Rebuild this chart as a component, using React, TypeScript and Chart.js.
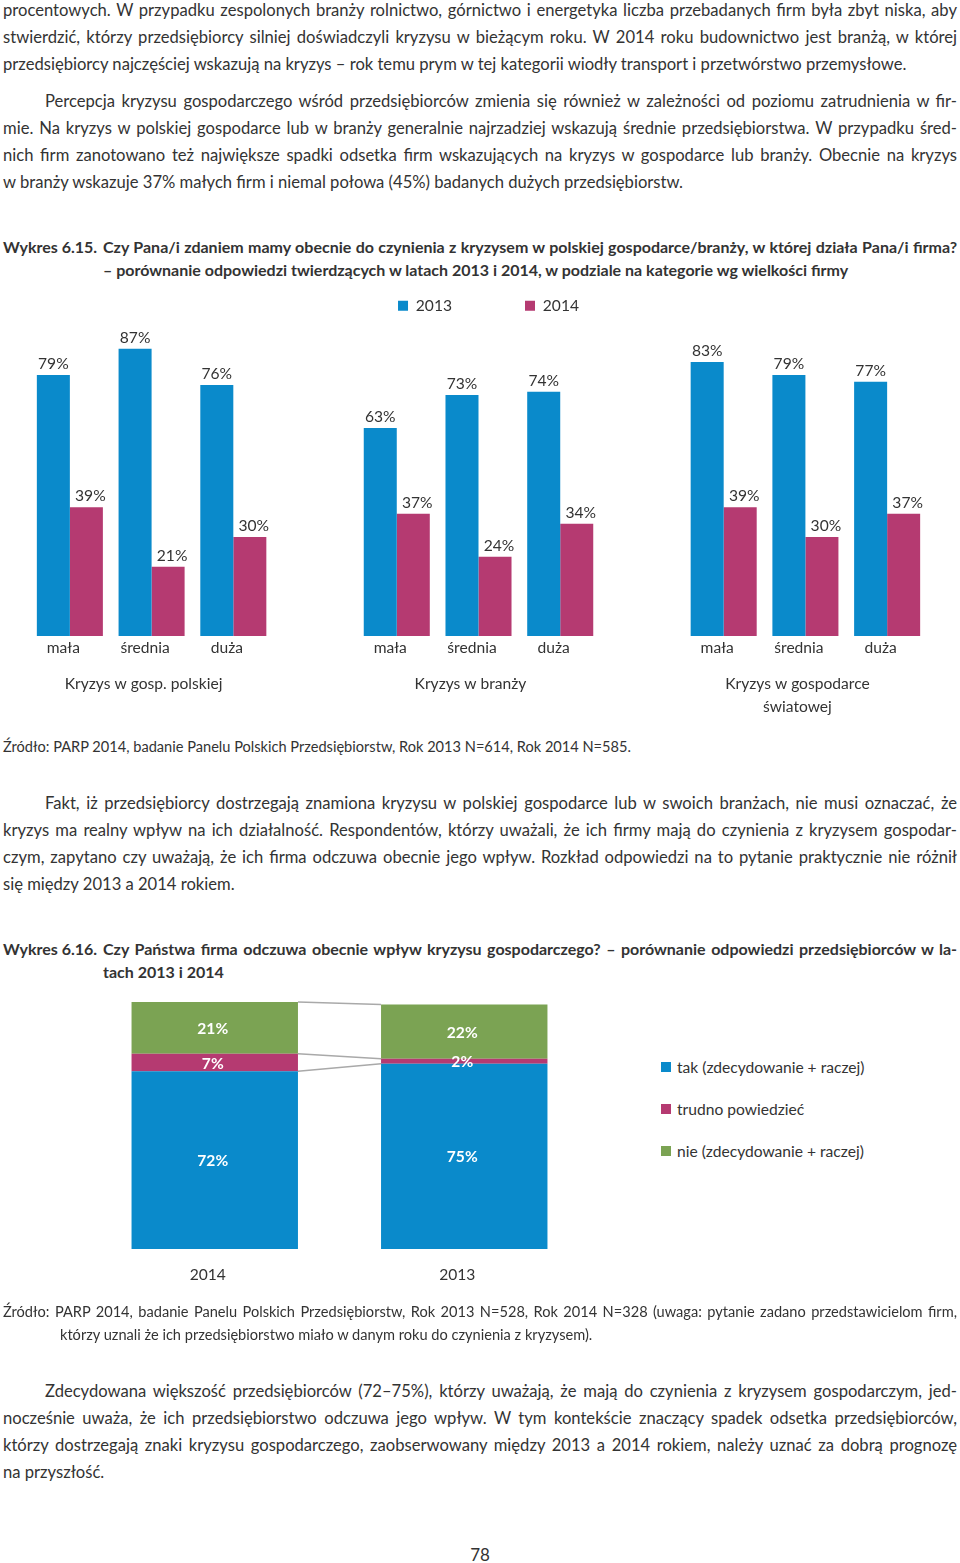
import React, { useEffect, useRef } from "react";
import { Chart, registerables } from "chart.js";

Chart.register(...registerables);

// ---------- DATA: Wykres 6.15 ----------
const sizeLabels = ["mała", "średnia", "duża"];
const groupLabels: (string | string[])[] = [
  "Kryzys w gosp. polskiej",
  "Kryzys w branży",
  ["Kryzys w gospodarce", "światowej"],
];
const seriesYears = ["2013", "2014"];
const values2013 = [79, 87, 76, 63, 73, 74, 83, 79, 77];
const values2014 = [39, 21, 30, 37, 24, 34, 39, 30, 37];

// ---------- DATA: Wykres 6.16 ----------
const impactYears = ["2014", "2013"];
const impactSeries = [
  "tak (zdecydowanie + raczej)",
  "trudno powiedzieć",
  "nie (zdecydowanie + raczej)",
];
const impactTak = [72, 75];
const impactTrudno = [7, 2];
const impactNie = [21, 22];

// ---------- STYLE ----------
const BLUE = "#0a8acb";
const PINK = "#b53a71";
const GREEN = "#7ba353";
const TEXT = "#333333";
const FONT = "Lato, 'Open Sans', 'DejaVu Sans', sans-serif";
const CHART_FS = 15.6;
const BODY_FS = 16.6;

Chart.defaults.font.family = FONT;
Chart.defaults.color = TEXT;

// build padded category arrays (one empty slot between groups)
function padGroups<T>(vals: T[], gap: T): T[] {
  const out: T[] = [];
  for (let g = 0; g < 3; g++) {
    for (let s = 0; s < 3; s++) out.push(vals[g * 3 + s]);
    if (g < 2) out.push(gap);
  }
  return out;
}
const xLabels = padGroups(
  [0, 1, 2, 0, 1, 2, 0, 1, 2].map((i) => sizeLabels[i]),
  ""
);
const x2Labels: (string | string[])[] = padGroups(
  [0, 1, 2, 3, 4, 5, 6, 7, 8].map((i) => (i % 3 === 1 ? groupLabels[(i - 1) / 3] : "")),
  ""
);
const data2013 = padGroups<number | null>(values2013, null);
const data2014 = padGroups<number | null>(values2014, null);

const barValueLabels = {
  id: "barValueLabels",
  afterDatasetsDraw(chart: any) {
    const ctx = chart.ctx;
    ctx.save();
    ctx.font = `${CHART_FS}px ${FONT}`;
    ctx.fillStyle = TEXT;
    ctx.textAlign = "center";
    ctx.textBaseline = "middle";
    chart.data.datasets.forEach((ds: any, i: number) => {
      const meta = chart.getDatasetMeta(i);
      meta.data.forEach((el: any, j: number) => {
        const v = ds.data[j];
        if (v === null || v === undefined) return;
        ctx.fillText(`${v}%`, el.x + (i === 1 ? 4 : 0), el.y - 11);
      });
    });
    ctx.restore();
  },
};

const stackDecor = {
  id: "stackDecor",
  afterDatasetsDraw(chart: any) {
    const ctx = chart.ctx;
    ctx.save();
    // connector lines between the two stacked bars
    ctx.strokeStyle = "#a9a9a9";
    ctx.lineWidth = 1.5;
    chart.data.datasets.forEach((_ds: any, i: number) => {
      const meta = chart.getDatasetMeta(i);
      const a = meta.data[0];
      const b = meta.data[1];
      ctx.beginPath();
      ctx.moveTo(a.x + a.width / 2, a.y);
      ctx.lineTo(b.x - b.width / 2, b.y);
      ctx.stroke();
    });
    // segment value labels
    ctx.font = `bold ${CHART_FS}px ${FONT}`;
    ctx.fillStyle = "#ffffff";
    ctx.textAlign = "center";
    ctx.textBaseline = "middle";
    chart.data.datasets.forEach((ds: any, i: number) => {
      const meta = chart.getDatasetMeta(i);
      meta.data.forEach((el: any, j: number) => {
        const v = ds.data[j];
        let cy = (el.y + el.base) / 2;
        if (Math.abs(el.base - el.y) < 10) cy = el.y + 2;
        ctx.fillText(`${v}%`, el.x - 2, cy + 1);
      });
    });
    ctx.restore();
  },
};

function GroupedChart() {
  const ref = useRef<HTMLCanvasElement>(null);
  useEffect(() => {
    if (!ref.current) return;
    const chart = new Chart(ref.current, {
      type: "bar",
      data: {
        labels: xLabels,
        datasets: [
          { label: seriesYears[0], data: data2013, backgroundColor: BLUE, borderWidth: 0, xAxisID: "x", yAxisID: "y" },
          { label: seriesYears[1], data: data2014, backgroundColor: PINK, borderWidth: 0, xAxisID: "x", yAxisID: "y" },
        ],
      },
      options: {
        responsive: false,
        animation: false,
        events: [],
        layout: { padding: { top: 0, bottom: 4, left: 0, right: 0 } },
        datasets: { bar: { categoryPercentage: 0.808, barPercentage: 1 } },
        plugins: {
          legend: {
            display: true,
            position: "top",
            align: "center",
            labels: { boxWidth: 10, boxHeight: 10, padding: 73, color: TEXT, font: { size: CHART_FS } },
          },
          tooltip: { enabled: false },
        },
        scales: {
          x: {
            type: "category",
            position: "bottom",
            weight: 0,
            offset: true,
            grid: { display: false, drawTicks: false },
            border: { display: false },
            ticks: { autoSkip: false, maxRotation: 0, padding: 3, labelOffset: -6.5, color: TEXT, font: { size: CHART_FS, lineHeight: 18 / CHART_FS } },
          },
          x2: {
            type: "category",
            labels: x2Labels as any,
            position: "bottom",
            weight: 1,
            offset: true,
            grid: { display: false, drawTicks: false },
            border: { display: false },
            ticks: { autoSkip: false, maxRotation: 0, padding: 12.5, labelOffset: -8, color: TEXT, font: { size: CHART_FS, lineHeight: 23 / CHART_FS } },
          },
          y: {
            position: "right",
            min: 0,
            max: 94.6,
            grid: { display: false, drawTicks: false },
            border: { display: false },
            ticks: { display: false },
            afterFit: (s: any) => {
              s.width = 20;
            },
          },
        },
      } as any,
      plugins: [barValueLabels],
    });
    return () => chart.destroy();
  }, []);
  return (
    <canvas
      ref={ref}
      width={919}
      height={510}
      style={{ position: "absolute", left: 29, top: 225, width: 919, height: 510, pointerEvents: "none" }}
    />
  );
}

function StackedChart() {
  const ref = useRef<HTMLCanvasElement>(null);
  useEffect(() => {
    if (!ref.current) return;
    const chart = new Chart(ref.current, {
      type: "bar",
      data: {
        labels: impactYears,
        datasets: [
          { label: impactSeries[0], data: impactTak, backgroundColor: BLUE, borderWidth: 0 },
          { label: impactSeries[1], data: impactTrudno, backgroundColor: PINK, borderWidth: 0 },
          { label: impactSeries[2], data: impactNie, backgroundColor: GREEN, borderWidth: 0 },
        ],
      },
      options: {
        responsive: false,
        animation: false,
        events: [],
        layout: { padding: { top: 10, bottom: 3, left: 0, right: 0 } },
        datasets: { bar: { categoryPercentage: 1, barPercentage: 0.667 } },
        plugins: { legend: { display: false }, tooltip: { enabled: false } },
        scales: {
          x: {
            stacked: true,
            offset: true,
            grid: { display: false, drawTicks: false },
            border: { display: false },
            ticks: { padding: 17, labelOffset: -7, color: TEXT, font: { size: CHART_FS, lineHeight: 18 / CHART_FS } },
          },
          y: { stacked: true, min: 0, max: 100, display: false },
        },
      } as any,
      plugins: [stackDecor],
    });
    return () => chart.destroy();
  }, []);
  return (
    <canvas
      ref={ref}
      width={499}
      height={312}
      style={{ position: "absolute", left: 90, top: 992, width: 499, height: 312 }}
    />
  );
}

type LineProps = {
  x: number;
  cy: number;
  w?: number;
  text: string;
  justify?: boolean;
  size?: number;
  weight?: number;
  center?: boolean;
};

function L({ x, cy, w = 954, text, justify = false, size = BODY_FS, weight = 400, center = false }: LineProps) {
  const lh = 20;
  return (
    <div
      style={{
        position: "absolute",
        left: x,
        top: cy - lh / 2,
        width: w,
        fontSize: size,
        fontWeight: weight,
        lineHeight: `${lh}px`,
        textAlign: center ? "center" : justify ? "justify" : "left",
        textAlignLast: justify ? "justify" : "auto",
        whiteSpace: justify ? "normal" : "nowrap",
        overflow: "visible",
      }}
    >
      {text}
    </div>
  );
}

const legend2Colors = [BLUE, PINK, GREEN];
const legend2Y = [1067, 1109, 1151];

export default function App() {
  useEffect(() => {
    document.body.style.margin = "0";
  }, []);
  return (
    <div
      style={{
        position: "absolute",
        left: 0,
        top: 0,
        width: 960,
        height: 1563,
        background: "#ffffff",
        color: TEXT,
        fontFamily: FONT,
        overflow: "hidden",
      }}
    >
      {/* paragraph 1 */}
      <L x={3} cy={10} justify text="procentowych. W przypadku zespolonych branży rolnictwo, górnictwo i energetyka liczba przebadanych firm była zbyt niska, aby" />
      <L x={3} cy={37} justify text="stwierdzić, którzy przedsiębiorcy silniej doświadczyli kryzysu w bieżącym roku. W 2014 roku budownictwo jest branżą, w której" />
      <L x={3} cy={64} text="przedsiębiorcy najczęściej wskazują na kryzys – rok temu prym w tej kategorii wiodły transport i przetwórstwo przemysłowe." />

      {/* paragraph 2 */}
      <L x={45} w={912} cy={101} justify text="Percepcja kryzysu gospodarczego wśród przedsiębiorców zmienia się również w zależności od poziomu zatrudnienia w fir-" />
      <L x={3} cy={128} justify text="mie. Na kryzys w polskiej gospodarce lub w branży generalnie najrzadziej wskazują średnie przedsiębiorstwa. W przypadku śred-" />
      <L x={3} cy={155} justify text="nich firm zanotowano też największe spadki odsetka firm wskazujących na kryzys w gospodarce lub branży. Obecnie na kryzys" />
      <L x={3} cy={182} text="w branży wskazuje 37% małych firm i niemal połowa (45%) badanych dużych przedsiębiorstw." />

      {/* title 6.15 */}
      <L x={3} cy={247} w={100} size={16} weight={700} text="Wykres 6.15." />
      <L x={103} w={854} cy={247} size={16} justify weight={700} text="Czy Pana/i zdaniem mamy obecnie do czynienia z kryzysem w polskiej gospodarce/branży, w której działa Pana/i firma?" />
      <L x={103} cy={270} size={16} weight={700} text="– porównanie odpowiedzi twierdzących w latach 2013 i 2014, w podziale na kategorie wg wielkości firmy" />

      <GroupedChart />

      <L x={3} cy={747} size={14.6} text="Źródło: PARP 2014, badanie Panelu Polskich Przedsiębiorstw, Rok 2013 N=614, Rok 2014 N=585." />

      {/* paragraph 3 */}
      <L x={45} w={912} cy={803} justify text="Fakt, iż przedsiębiorcy dostrzegają znamiona kryzysu w polskiej gospodarce lub w swoich branżach, nie musi oznaczać, że" />
      <L x={3} cy={830} justify text="kryzys ma realny wpływ na ich działalność. Respondentów, którzy uważali, że ich firmy mają do czynienia z kryzysem gospodar-" />
      <L x={3} cy={857} justify text="czym, zapytano czy uważają, że ich firma odczuwa obecnie jego wpływ. Rozkład odpowiedzi na to pytanie praktycznie nie różnił" />
      <L x={3} cy={884} text="się między 2013 a 2014 rokiem." />

      {/* title 6.16 */}
      <L x={3} cy={949} w={100} size={16} weight={700} text="Wykres 6.16." />
      <L x={103} w={854} cy={949} size={16} justify weight={700} text="Czy Państwa firma odczuwa obecnie wpływ kryzysu gospodarczego? – porównanie odpowiedzi przedsiębiorców w la-" />
      <L x={103} cy={972} size={16} weight={700} text="tach 2013 i 2014" />

      <StackedChart />

      {impactSeries.map((name, i) => (
        <div
          key={name}
          style={{ position: "absolute", left: 661, top: legend2Y[i] - 10, height: 20, display: "flex", alignItems: "center", fontSize: CHART_FS, whiteSpace: "nowrap" }}
        >
          <span style={{ display: "inline-block", width: 10, height: 10, background: legend2Colors[i], marginRight: 6 }} />
          <span>{name}</span>
        </div>
      ))}

      <L x={3} cy={1312} size={14.6} justify text="Źródło: PARP 2014, badanie Panelu Polskich Przedsiębiorstw, Rok 2013 N=528, Rok 2014 N=328 (uwaga: pytanie zadano przedstawicielom firm," />
      <L x={60} cy={1335} size={14.6} text="którzy uznali że ich przedsiębiorstwo miało w danym roku do czynienia z kryzysem)." />

      {/* paragraph 4 */}
      <L x={45} w={912} cy={1391} justify text="Zdecydowana większość przedsiębiorców (72–75%), którzy uważają, że mają do czynienia z kryzysem gospodarczym, jed-" />
      <L x={3} cy={1418} justify text="nocześnie uważa, że ich przedsiębiorstwo odczuwa jego wpływ. W tym kontekście znaczący spadek odsetka przedsiębiorców," />
      <L x={3} cy={1445} justify text="którzy dostrzegają znaki kryzysu gospodarczego, zaobserwowany między 2013 a 2014 rokiem, należy uznać za dobrą prognozę" />
      <L x={3} cy={1472} text="na przyszłość." />

      <L x={430} w={100} cy={1555} size={17} center text="78" />
    </div>
  );
}
